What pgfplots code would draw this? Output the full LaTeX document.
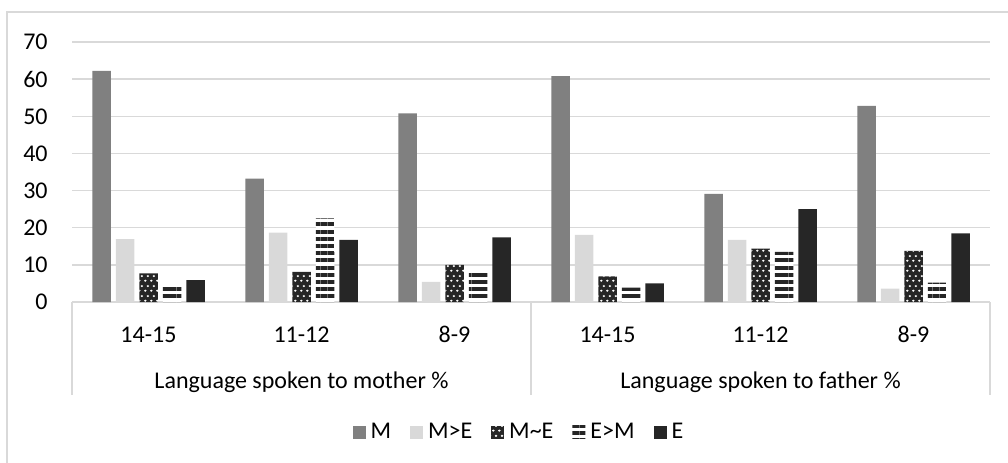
\documentclass[border=0pt]{standalone}
\usepackage{pgfplots}
\pgfplotsset{compat=1.18}
\usepackage{fontspec}
\setmainfont{Carlito}
\usetikzlibrary{patterns,patterns.meta}

\definecolor{cM}{HTML}{808080}
\definecolor{cME}{HTML}{D9D9D9}
\definecolor{cD}{HTML}{262626}
\definecolor{gridc}{HTML}{D9D9D9}
\newcommand{\fs}{\fontsize{12}{14}\selectfont}

\pgfdeclarepatternformonly{ovals}{\pgfpointorigin}{\pgfpoint{3pt}{5pt}}{\pgfpoint{3pt}{5pt}}{%
 \pgfpathellipse{\pgfpoint{0.75pt}{1.25pt}}{\pgfpoint{0.75pt}{0pt}}{\pgfpoint{0pt}{0.6pt}}%
 \pgfpathellipse{\pgfpoint{2.25pt}{3.75pt}}{\pgfpoint{0.75pt}{0pt}}{\pgfpoint{0pt}{0.6pt}}%
 \pgfusepath{fill}}

\pgfplotsset{sqlegend/.style={legend image code/.code={\fill[##1] (0pt,-3.25pt) rectangle (6.5pt,3.25pt);}}}

\begin{document}
\begin{tikzpicture}
\useasboundingbox (-36pt,-80pt) rectangle (468pt,151pt);
\draw[gridc, line width=0.75pt] (-32.5pt,-81pt) -- (-32.5pt,145pt) -- (469pt,145pt);
\begin{axis}[
 at={(0,0)}, anchor=south west,
 scale only axis, width=459pt, height=130pt,
 ymin=0, ymax=70, ytick={0,10,...,70},
 xmin=-0.5, xmax=5.5, xtick={0,...,5},
 xticklabels={14-15,11-12,8-9,14-15,11-12,8-9},
 ybar=2.5pt, bar width=9.25pt,
 axis line style={draw=none}, major tick length=0pt,
 ymajorgrids, grid style={gridc, line width=0.75pt},
 /pgf/number format/assume math mode=true,
 tick label style={font=\fs, text=black},
 yticklabel style={anchor=east, inner sep=0pt, xshift=-12pt},
 xticklabel style={anchor=base, inner sep=0pt, yshift=-20pt},
 clip=false,
 legend columns=-1,
 legend style={draw=none, fill=none, font=\fs, at={(0.4885,0)}, anchor=center, yshift=-65pt,
   /tikz/every even column/.append style={column sep=7pt}, inner sep=0pt,
   nodes={inner xsep=2.5pt, inner ysep=0pt}},
]
\addplot[sqlegend, fill=cM, draw=none] coordinates {(0,62.2) (1,33.2) (2,50.8) (3,60.8) (4,29.1) (5,52.8)};
\addlegendentry{M}
\addplot[sqlegend, fill=cME, draw=none] coordinates {(0,16.9) (1,18.7) (2,5.4) (3,18.1) (4,16.7) (5,3.6)};
\addlegendentry{M>E}
\addplot[sqlegend, fill=cD, draw=none, postaction={pattern=ovals, pattern color=white}] coordinates {(0,7.7) (1,8.1) (2,10.0) (3,6.9) (4,14.4) (5,13.8)};
\addlegendentry{M\textasciitilde E}
\addplot[sqlegend, fill=white, draw=none, postaction={pattern={Lines[angle=0,distance=3.6pt,line width=2pt]}, pattern color=cD}] coordinates {(0,4.6) (1,22.5) (2,8.2) (3,3.9) (4,13.5) (5,5.2)};
\addlegendentry{E>M}
\addplot[sqlegend, fill=cD, draw=none] coordinates {(0,5.9) (1,16.7) (2,17.4) (3,5.0) (4,25.0) (5,18.5)};
\addlegendentry{E}
\draw[gridc, line width=0.75pt] (axis cs:-0.5,0) -- ++(0pt,-46.5pt);
\draw[gridc, line width=0.75pt] (axis cs:2.5,0) -- ++(0pt,-46.5pt);
\draw[gridc, line width=0.75pt] (axis cs:5.5,0) -- ++(0pt,-46.5pt);
\node[font=\fs, anchor=base, yshift=-43pt] at (axis cs:1,0) {Language spoken to mother \%};
\node[font=\fs, anchor=base, yshift=-43pt] at (axis cs:4,0) {Language spoken to father \%};
\end{axis}
\end{tikzpicture}
\end{document}
